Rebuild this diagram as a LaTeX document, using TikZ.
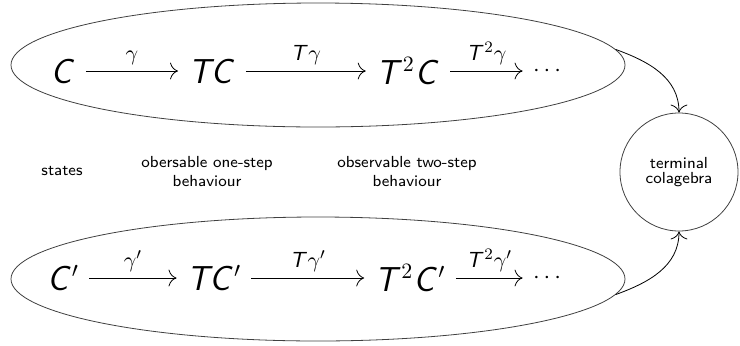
\documentclass[tikz,border=0pt]{standalone}
\usepackage{amsmath}
\usepackage{xcolor}
\usepackage{tikz}
\usetikzlibrary{arrows.meta,positioning,shapes.geometric}
\DeclareMathAlphabet{\mathsfit}{OT1}{cmss}{m}{sl}
\newcommand{\sC}{\mathsfit{C}}
\newcommand{\sT}{\mathsfit{T}}

\begin{document}
\begin{tikzpicture}[x=0.5pt, y=0.5pt, font=\sffamily\footnotesize, >={To[length=4pt]}]
  \tikzset{
    obj/.style={font=\fontsize{16}{19}\selectfont, inner sep=5pt},
    dots/.style={font=\fontsize{12}{14}\selectfont, inner sep=5pt},
    lbl/.style={font=\fontsize{11}{13}\selectfont, above, inner sep=3pt},
    oval/.style={ellipse, draw=black!75, minimum width=307pt, minimum height=62pt, inner sep=0pt},
    note/.style={align=center, font=\sffamily\footnotesize, inner sep=1pt}
  }
  \useasboundingbox (0,0) rectangle (740,345);
  % upper coalgebra
  \node[oval] (top) at (318,280) {};
  \node[obj] (c0) at (63,274) {$\sC$};
  \node[obj] (c1) at (212,274) {$\sT\sC$};
  \node[obj] (c2) at (408,274) {$\sT^2\sC$};
  \node[dots] (c3) at (549,274) {$\cdots$};
  \draw[->] (c0) -- node[lbl]{$\gamma$} (c1);
  \draw[->] (c1) -- node[lbl]{$\sT\gamma$} (c2);
  \draw[->] (c2) -- node[lbl]{$\sT^2\gamma$} (c3);
  % lower coalgebra
  \node[oval] (bot) at (318,66) {};
  \node[obj] (d0) at (63,67) {$\sC'$};
  \node[obj] (d1) at (214,67) {$\sT\sC'$};
  \node[obj] (d2) at (410,67) {$\sT^2\sC'$};
  \node[dots] (d3) at (549,67) {$\cdots$};
  \draw[->] (d0) -- node[lbl]{$\gamma'$} (d1);
  \draw[->] (d1) -- node[lbl]{$\sT\gamma'$} (d2);
  \draw[->] (d2) -- node[lbl]{$\sT^2\gamma'$} (d3);
  % captions in between
  \node[note] (st) at (62,174) {states};
  \node[note] (one) at (207,173) {obersable one-step\\behaviour};
  \node[note] (two) at (407,173) {observable two-step\\behaviour};
  \node[circle, draw=black!75, minimum size=59pt, inner sep=0pt, align=center,
        font=\sffamily\fontsize{8}{7.5}\selectfont] (term) at (679,173) {terminal\\colagebra};
  \draw[->] (top.3.5) to[out=-20, in=90] (term.north);
  \draw[->] (bot.-3.5) to[out=20, in=-90] (term.south);
\end{tikzpicture}
\end{document}
